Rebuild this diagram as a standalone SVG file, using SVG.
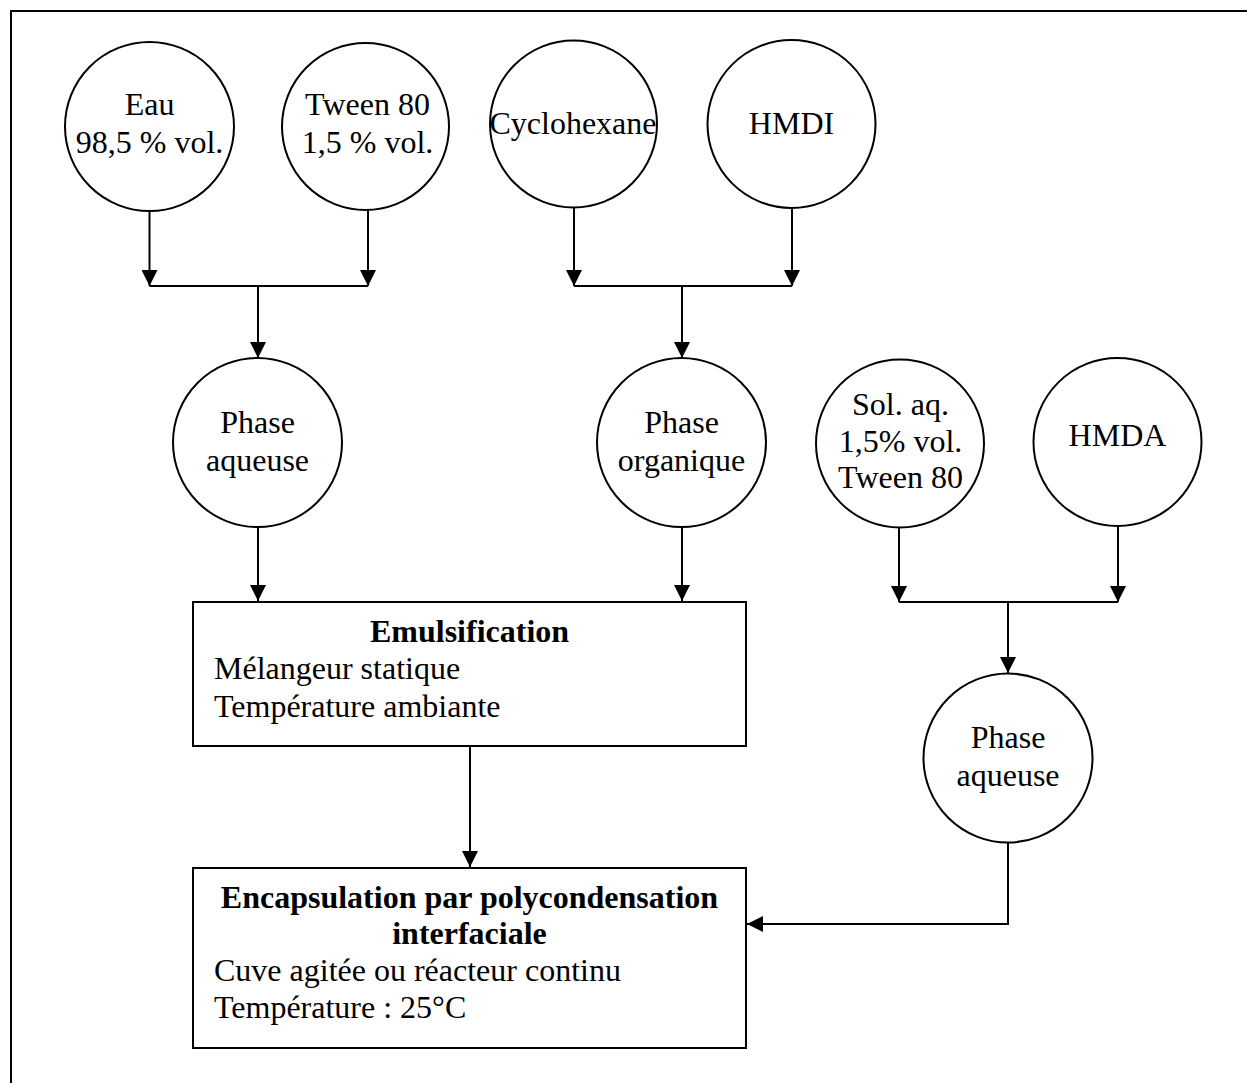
<svg xmlns="http://www.w3.org/2000/svg" width="1247" height="1083" viewBox="0 0 1247 1083">
<defs>
<marker id="ah" markerUnits="userSpaceOnUse" markerWidth="16" markerHeight="16" refX="15" refY="7.5" orient="auto" viewBox="0 0 15 15">
<path d="M0,0 L15,7.5 L0,15 z" fill="#000"/>
</marker>
<style>
.n{fill:#fff;stroke:#000;stroke-width:2}
.t{font-family:"Liberation Serif","Times New Roman",serif;font-size:32px;fill:#000}
.c{text-anchor:middle}
.b{font-weight:bold}
.l{fill:none;stroke:#000;stroke-width:2}
.a{fill:none;stroke:#000;stroke-width:2;marker-end:url(#ah)}
</style>
</defs>
<rect width="1247" height="1083" fill="#fff"/>
<g id="frame">
<path d="M11,1083 L11,11 L1247,11" class="l"/>
</g>
<g id="connectors">
<path d="M149.5,211 L149.5,286" class="a"/>
<path d="M368,211 L368,286" class="a"/>
<path d="M149.5,286 L368,286" class="l"/>
<path d="M258,286 L258,358" class="a"/>
<path d="M574,208 L574,286" class="a"/>
<path d="M792,208 L792,286" class="a"/>
<path d="M574,286 L792,286" class="l"/>
<path d="M682,286 L682,358" class="a"/>
<path d="M258,527 L258,601" class="a"/>
<path d="M682,527 L682,601" class="a"/>
<path d="M899,528 L899,602" class="a"/>
<path d="M1118,526 L1118,602" class="a"/>
<path d="M899,602 L1118,602" class="l"/>
<path d="M1008,602 L1008,673" class="a"/>
<path d="M470,746 L470,867" class="a"/>
<path d="M1008,843 L1008,924 L747,924" class="a"/>
</g>
<g id="eau">
<circle cx="149.5" cy="126.5" r="84.5" class="n"/>
<text class="t c" x="149.5" y="115">Eau</text>
<text class="t c" x="149.5" y="153">98,5 % vol.</text>
</g>
<g id="tween">
<circle cx="365.5" cy="126.5" r="83.5" class="n"/>
<text class="t c" x="367.5" y="115">Tween 80</text>
<text class="t c" x="367.5" y="153">1,5 % vol.</text>
</g>
<g id="cyclohexane">
<circle cx="573.5" cy="124" r="83.5" class="n"/>
<text class="t c" x="573" y="134">Cyclohexane</text>
</g>
<g id="hmdi">
<circle cx="791.5" cy="124" r="84" class="n"/>
<text class="t c" x="791.5" y="134">HMDI</text>
</g>
<g id="phase-aqueuse-1">
<circle cx="257.5" cy="442.5" r="84.5" class="n"/>
<text class="t c" x="257.5" y="433">Phase</text>
<text class="t c" x="257.5" y="471">aqueuse</text>
</g>
<g id="phase-organique">
<circle cx="681.5" cy="442.5" r="84.5" class="n"/>
<text class="t c" x="681.5" y="433">Phase</text>
<text class="t c" x="681.5" y="471">organique</text>
</g>
<g id="sol-aq">
<circle cx="900" cy="443.5" r="84" class="n"/>
<text class="t c" x="900.5" y="415">Sol. aq.</text>
<text class="t c" x="900.5" y="452">1,5% vol.</text>
<text class="t c" x="900.5" y="488">Tween 80</text>
</g>
<g id="hmda">
<circle cx="1117.5" cy="442" r="84" class="n"/>
<text class="t c" x="1117.5" y="446">HMDA</text>
</g>
<g id="phase-aqueuse-2">
<circle cx="1008" cy="758" r="84.5" class="n"/>
<text class="t c" x="1008" y="748">Phase</text>
<text class="t c" x="1008" y="786">aqueuse</text>
</g>
<g id="emulsification">
<rect x="193" y="602" width="553" height="144" class="n"/>
<text class="t c b" x="469.5" y="642">Emulsification</text>
<text class="t" x="214" y="679">Mélangeur statique</text>
<text class="t" x="214" y="717">Température ambiante</text>
</g>
<g id="encapsulation">
<rect x="193" y="868" width="553" height="180" class="n"/>
<text class="t c b" x="469.5" y="908">Encapsulation par polycondensation</text>
<text class="t c b" x="469.5" y="944">interfaciale</text>
<text class="t" x="214" y="981">Cuve agitée ou réacteur continu</text>
<text class="t" x="214" y="1018">Température : 25°C</text>
</g>
</svg>
